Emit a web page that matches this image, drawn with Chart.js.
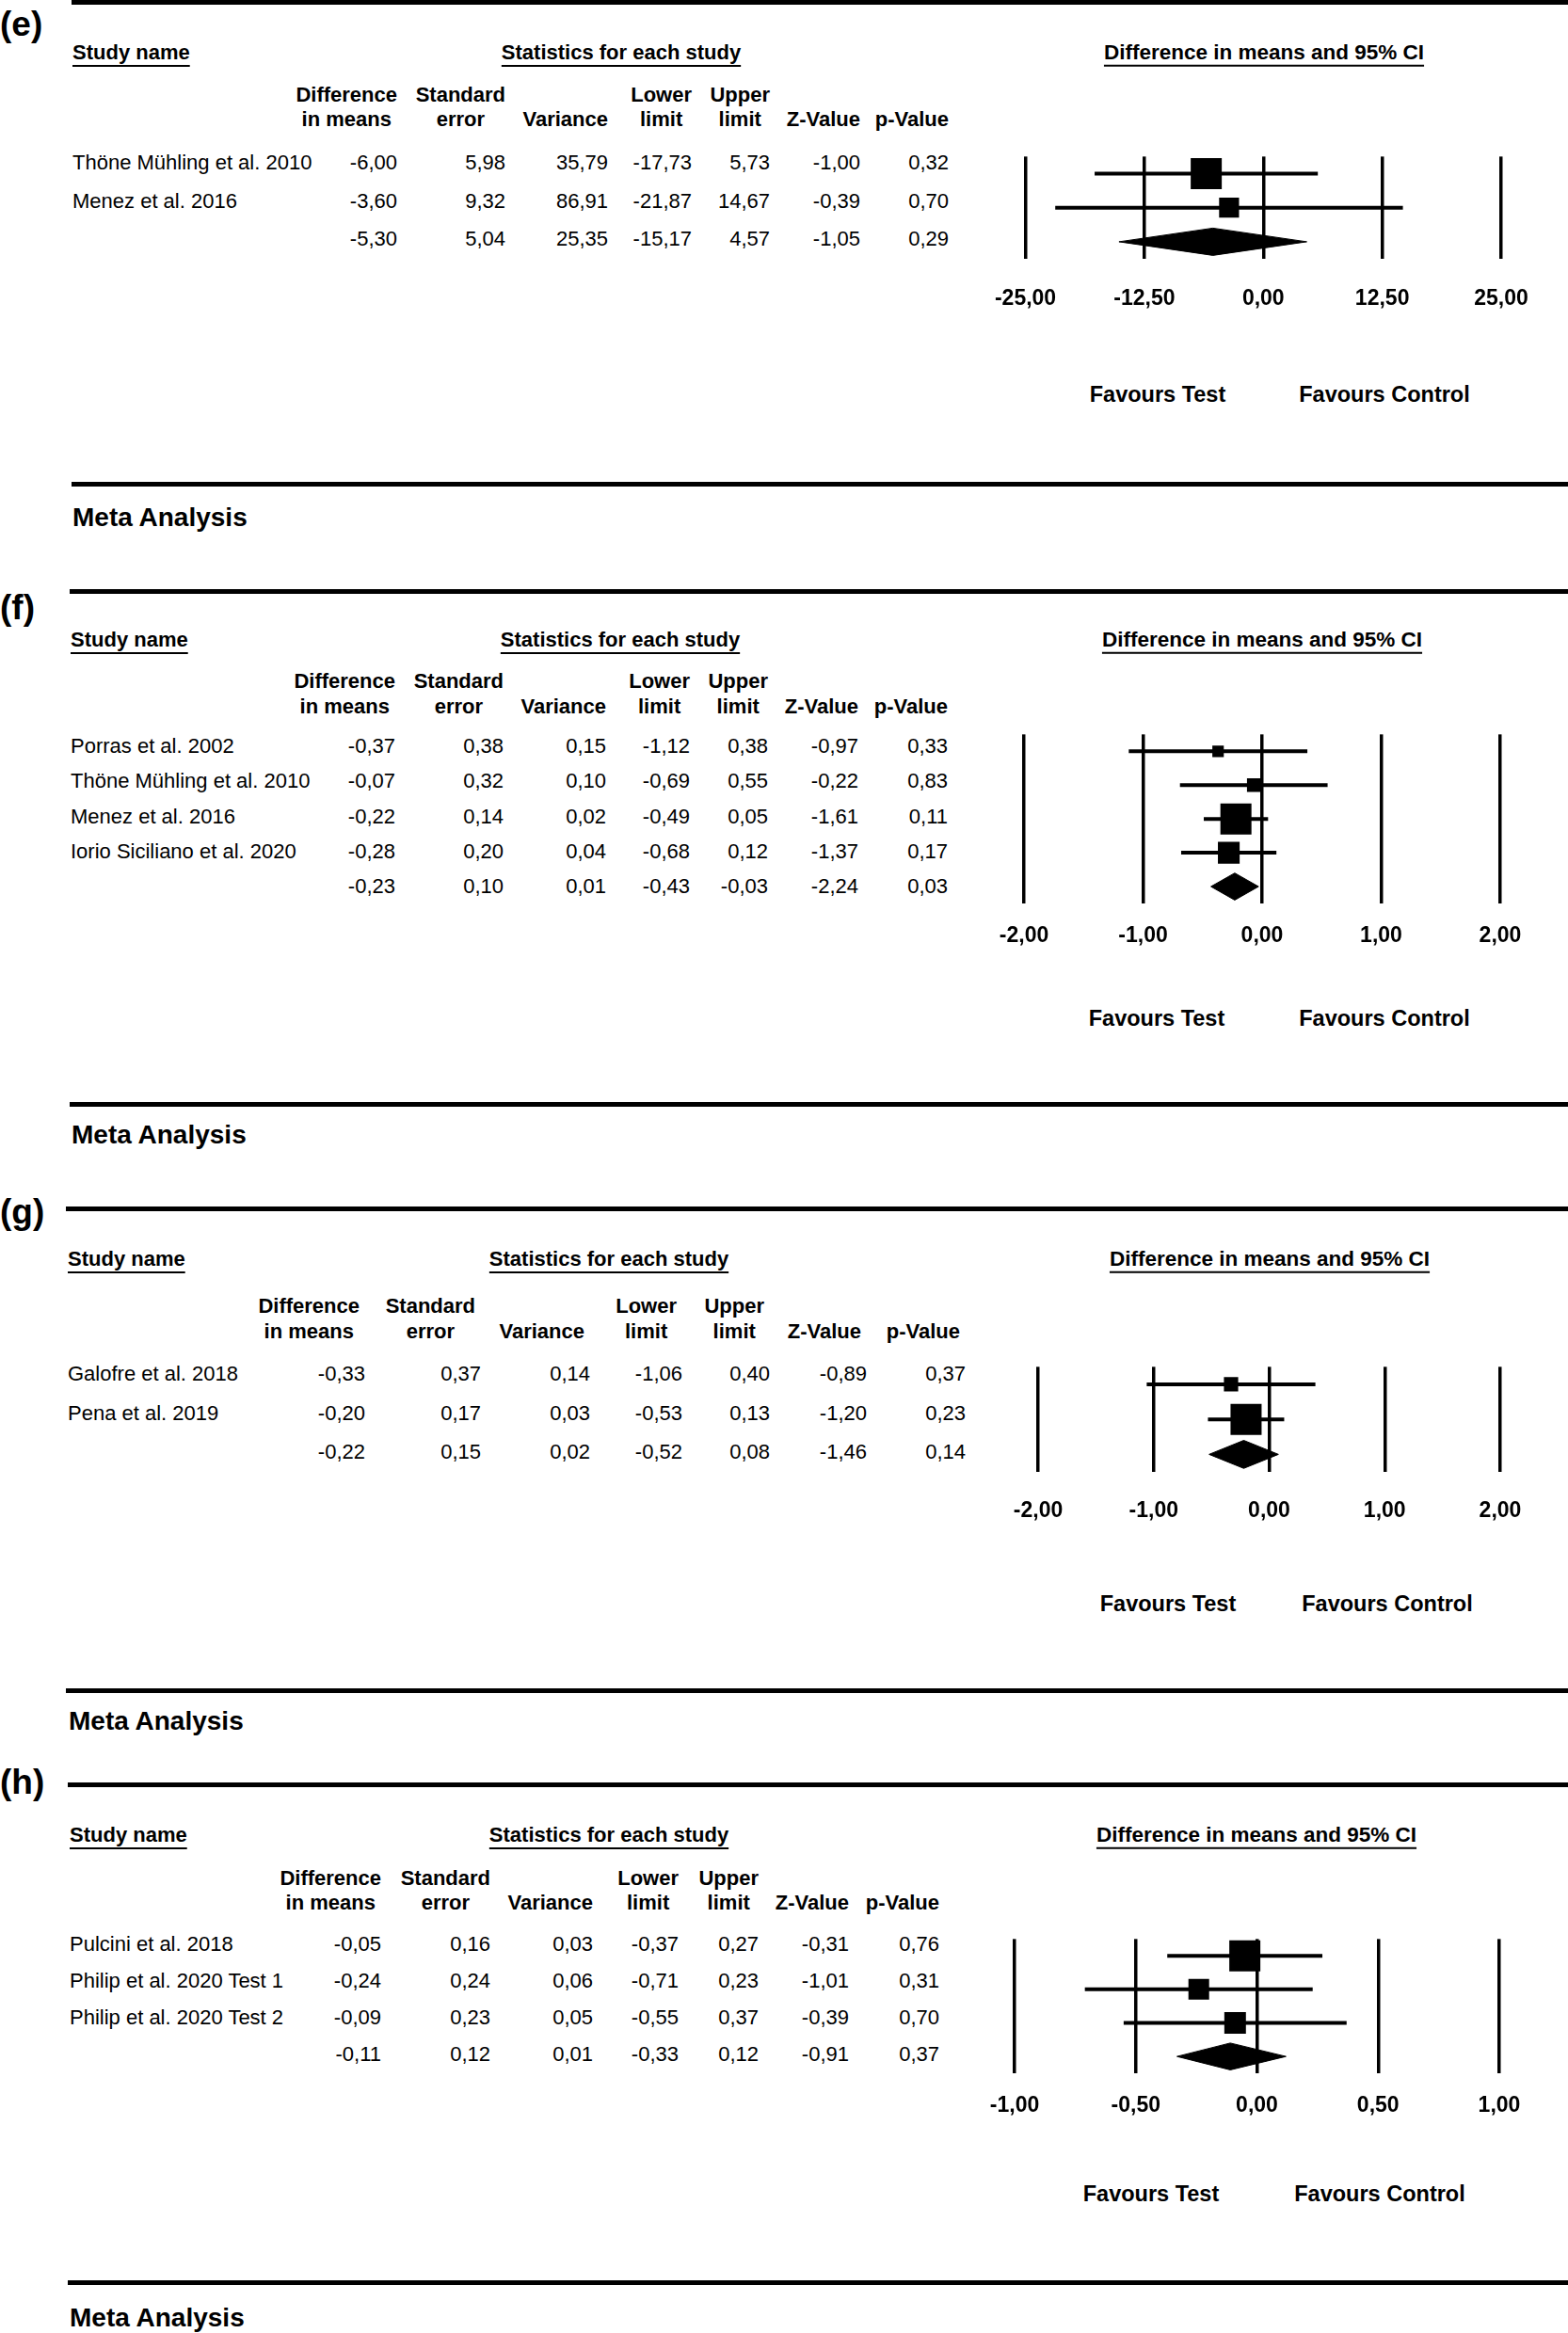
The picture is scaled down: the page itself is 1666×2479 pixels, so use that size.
<!DOCTYPE html>
<html>
<head>
<meta charset="utf-8">
<script src="https://cdn.jsdelivr.net/npm/chart.js@4.4.1/dist/chart.umd.min.js"></script>
<style>
body{margin:0;background:#fff;}
#page{position:relative;width:1666px;height:2479px;overflow:hidden;font-family:"Liberation Sans",Arial,Helvetica,sans-serif;color:#000;}
.t{position:absolute;white-space:nowrap;font-size:22px;line-height:1;}
.b{font-weight:bold;}
.u{text-decoration:underline;text-decoration-thickness:2px;text-underline-offset:6px;}
.rule{position:absolute;height:5px;background:#000;right:0;}
canvas{position:absolute;}
</style>
</head>
<body>
<div id="page"></div>
<script>
// column headers of the statistics table
const colHeads = [["Difference","in means"],["Standard","error"],["","Variance"],["Lower","limit"],["Upper","limit"],["","Z-Value"],["","p-Value"]];

// (e)
const studiesE = ["Thöne Mühling et al. 2010","Menez et al. 2016",""];
const diffE = [-6.00,-3.60,-5.30];
const seE = [5.98,9.32,5.04];
const varE = [35.79,86.91,25.35];
const lowerE = [-17.73,-21.87,-15.17];
const upperE = [5.73,14.67,4.57];
const zE = [-1.00,-0.39,-1.05];
const pE = [0.32,0.70,0.29];
const ticksE = [-25,-12.5,0,12.5,25];

// (f)
const studiesF = ["Porras et al. 2002","Thöne Mühling et al. 2010","Menez et al. 2016","Iorio Siciliano et al. 2020",""];
const diffF = [-0.37,-0.07,-0.22,-0.28,-0.23];
const seF = [0.38,0.32,0.14,0.20,0.10];
const varF = [0.15,0.10,0.02,0.04,0.01];
const lowerF = [-1.12,-0.69,-0.49,-0.68,-0.43];
const upperF = [0.38,0.55,0.05,0.12,-0.03];
const zF = [-0.97,-0.22,-1.61,-1.37,-2.24];
const pF = [0.33,0.83,0.11,0.17,0.03];
const ticksF = [-2,-1,0,1,2];

// (g)
const studiesG = ["Galofre et al. 2018","Pena et al. 2019",""];
const diffG = [-0.33,-0.20,-0.22];
const seG = [0.37,0.17,0.15];
const varG = [0.14,0.03,0.02];
const lowerG = [-1.06,-0.53,-0.52];
const upperG = [0.40,0.13,0.08];
const zG = [-0.89,-1.20,-1.46];
const pG = [0.37,0.23,0.14];
const ticksG = [-2,-1,0,1,2];

// (h)
const studiesH = ["Pulcini et al. 2018","Philip et al. 2020 Test 1","Philip et al. 2020 Test 2",""];
const diffH = [-0.05,-0.24,-0.09,-0.11];
const seH = [0.16,0.24,0.23,0.12];
const varH = [0.03,0.06,0.05,0.01];
const lowerH = [-0.37,-0.71,-0.55,-0.33];
const upperH = [0.27,0.23,0.37,0.12];
const zH = [-0.31,-1.01,-0.39,-0.91];
const pH = [0.76,0.31,0.70,0.37];
const ticksH = [-1,-0.5,0,0.5,1];

const FONT = '"Liberation Sans", Arial, Helvetica, sans-serif';
const page = document.getElementById("page");
const fmt = v => v.toFixed(2).replace(".", ",");

// layout of each panel (pixels)
const panels = [
  {label:"(e)", names:studiesE, cols:[diffE,seE,varE,lowerE,upperE,zE,pE], ticks:ticksE,
   ruleX:76, ruleTop:0, ruleBottom:512, letterY:25, nameX:77, headY:56, statsX:660, ciHeadX:1343,
   hdrY:[101,127], hdrShift:0, colR:[422,537,646,735,818,914,1008], rowY:173, rowGap:40.5,
   xMinPx:1088, xMaxPx:1595, tickY:317, favY:420, favTestX:1230, favCtrlX:1471, metaX:77, metaY:550},
  {label:"(f)", names:studiesF, cols:[diffF,seF,varF,lowerF,upperF,zF,pF], ticks:ticksF,
   ruleX:74, ruleTop:626, ruleBottom:1171, letterY:645, nameX:75, headY:680, statsX:659, ciHeadX:1341,
   hdrY:[723,750], hdrShift:0, colR:[420,535,644,733,816,912,1007], rowY:793, rowGap:37.25,
   xMinPx:1088, xMaxPx:1594, tickY:995, favY:1083, favTestX:1229, favCtrlX:1471, metaX:76, metaY:1206},
  {label:"(g)", names:studiesG, cols:[diffG,seG,varG,lowerG,upperG,zG,pG], ticks:ticksG,
   ruleX:70, ruleTop:1282, ruleBottom:1794, letterY:1287, nameX:72, headY:1338, statsX:647, ciHeadX:1349,
   hdrY:[1387,1414], hdrShift:-6, colR:[388,511,627,725,818,921,1026], rowY:1460, rowGap:41.5,
   xMinPx:1103, xMaxPx:1594, tickY:1605, favY:1705, favTestX:1241, favCtrlX:1474, metaX:73, metaY:1829},
  {label:"(h)", names:studiesH, cols:[diffH,seH,varH,lowerH,upperH,zH,pH], ticks:ticksH,
   ruleX:72, ruleTop:1894, ruleBottom:2423, letterY:1893, nameX:74, headY:1950, statsX:647, ciHeadX:1335,
   hdrY:[1996,2022], hdrShift:0, colR:[405,521,630,721,806,902,998], rowY:2066, rowGap:39,
   xMinPx:1078, xMaxPx:1593, tickY:2237, favY:2332, favTestX:1223, favCtrlX:1466, metaX:74, metaY:2463}
];

function txt(str, x, y, cls, align, size){
  const d = document.createElement("div");
  d.className = "t " + (cls || "");
  d.textContent = str;
  if (size) d.style.fontSize = size + "px";
  d.style.left = x + "px";
  d.style.top = y + "px";
  const tx = align === "right" ? "-100%" : align === "center" ? "-50%" : "0";
  d.style.transform = "translate(" + tx + ",-50%)";
  page.appendChild(d);
}

function hdr(lines, right, ys){
  const d = document.createElement("div");
  const lh = ys[1] - ys[0];
  d.className = "t b";
  d.style.textAlign = "center";
  d.style.lineHeight = lh + "px";
  d.style.left = right + "px";
  d.style.top = (ys[0] - lh / 2) + "px";
  d.style.transform = "translateX(-100%)";
  lines.forEach(s => {
    const l = document.createElement("div");
    l.textContent = s || "\u00a0";
    d.appendChild(l);
  });
  page.appendChild(d);
}

function rule(x, y){
  const r = document.createElement("div");
  r.className = "rule";
  r.style.left = x + "px";
  r.style.top = y + "px";
  page.appendChild(r);
}

function makeChart(p){
  const n = p.cols[0].length;
  const diff = p.cols[0], se = p.cols[1], lo = p.cols[3], hi = p.cols[4];
  const padL = 60, padR = 60, padT = 10, axisH = 80, padB = 5;
  const top = p.rowY - p.rowGap / 2;
  const bottom = p.rowY + (n - 0.5) * p.rowGap;
  const cv = document.createElement("canvas");
  cv.width = Math.round(p.xMaxPx - p.xMinPx + padL + padR);
  cv.height = Math.round(bottom - top + padT + axisH + padB);
  cv.style.left = (p.xMinPx - padL) + "px";
  cv.style.top = Math.round(top - padT) + "px";
  page.appendChild(cv);

  const k = n - 1; // last row is the pooled estimate
  const wts = se.slice(0, k).map(s => 1 / (s * s));
  const wMax = Math.max(...wts);
  const datasets = [];
  datasets.push({
    data: diff.slice(0, k).map((d, i) => ({x: d, y: i})),
    showLine: false, pointStyle: "rect",
    pointRadius: wts.map(w => 33 * Math.sqrt(w / wMax) / Math.SQRT2),
    pointBackgroundColor: "#000", pointBorderWidth: 0
  });
  for (let i = 0; i < k; i++) {
    datasets.push({
      data: [{x: lo[i], y: i}, {x: hi[i], y: i}],
      borderColor: "#000", borderWidth: 4, pointRadius: 0, borderCapStyle: "butt"
    });
  }
  datasets.push({
    data: [{x: lo[k], y: k}, {x: diff[k], y: k - 0.4}, {x: hi[k], y: k}, {x: diff[k], y: k + 0.4}, {x: lo[k], y: k}],
    borderColor: "#000", backgroundColor: "#000", borderWidth: 1, pointRadius: 0, fill: "shape", tension: 0
  });

  new Chart(cv, {
    type: "line",
    data: {datasets: datasets},
    options: {
      responsive: false, animation: false, events: [],
      layout: {padding: {left: padL, right: padR, top: padT, bottom: padB}},
      plugins: {legend: {display: false}, tooltip: {enabled: false}},
      scales: {
        x: {
          type: "linear", min: p.ticks[0], max: p.ticks[p.ticks.length - 1],
          afterBuildTicks: s => { s.ticks = p.ticks.map(v => ({value: v})); },
          afterFit: s => { s.height = axisH; },
          grid: {color: "#000", lineWidth: 3.5, drawTicks: false},
          border: {display: false},
          ticks: {
            color: "#000", padding: p.tickY - bottom - 13.8, autoSkip: false, maxRotation: 0,
            font: {family: FONT, size: 23, weight: "bold"},
            callback: v => fmt(v)
          }
        },
        y: {type: "linear", display: false, reverse: true, min: -0.5, max: n - 0.5}
      }
    }
  });
}

function drawPanel(p){
  rule(p.ruleX, p.ruleTop);
  rule(p.ruleX, p.ruleBottom);
  txt(p.label, 0, p.letterY, "b", "left", 37);
  txt("Study name", p.nameX, p.headY, "b u");
  txt("Statistics for each study", p.statsX, p.headY, "b u", "center");
  txt("Difference in means and 95% CI", p.ciHeadX, p.headY, "b u", "center", 22.5);
  colHeads.forEach((h, j) => hdr(h, p.colR[j] + p.hdrShift, p.hdrY));
  const n = p.cols[0].length;
  for (let i = 0; i < n; i++) {
    const y = p.rowY + i * p.rowGap;
    if (p.names[i]) txt(p.names[i], p.nameX, y);
    p.cols.forEach((c, j) => txt(fmt(c[i]), p.colR[j], y, "", "right"));
  }
  txt("Favours Test", p.favTestX, p.favY, "b", "center", 23.5);
  txt("Favours Control", p.favCtrlX, p.favY, "b", "center", 23.5);
  txt("Meta Analysis", p.metaX, p.metaY, "b", "left", 28);
  makeChart(p);
}

panels.forEach(drawPanel);
</script>
</body>
</html>
